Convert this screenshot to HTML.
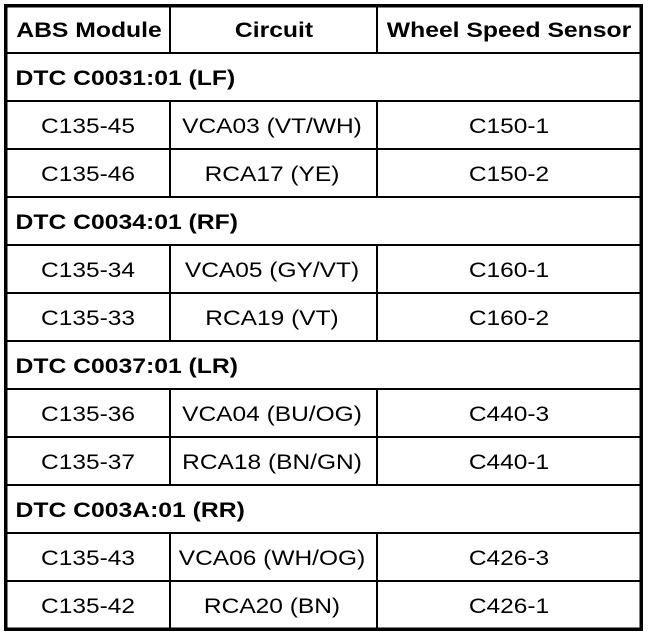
<!DOCTYPE html>
<html>
<head>
<meta charset="utf-8">
<style>
  html, body { margin: 0; padding: 0; background: #fff; }
  svg { display: block; }
  text { font-family: "Liberation Sans", Arial, sans-serif; fill: #000; }
  .b { font-weight: bold; font-size: 21.5px; }
  .r { font-size: 21.5px; }
</style>
</head>
<body>
<svg width="672" height="636" viewBox="0 0 672 636" xmlns="http://www.w3.org/2000/svg">
  <rect x="0" y="0" width="672" height="636" fill="#fff"/>
  <g shape-rendering="crispEdges" fill="#000">
    <!-- horizontal lines -->
    <rect x="6" y="52" width="635" height="2"/>
    <rect x="6" y="100" width="635" height="2"/>
    <rect x="6" y="148" width="635" height="2"/>
    <rect x="6" y="196" width="635" height="2"/>
    <rect x="6" y="244" width="635" height="2"/>
    <rect x="6" y="292" width="635" height="2"/>
    <rect x="6" y="340" width="635" height="2"/>
    <rect x="6" y="388" width="635" height="2"/>
    <rect x="6" y="436" width="635" height="2"/>
    <rect x="6" y="484" width="635" height="2"/>
    <rect x="6" y="532" width="635" height="2"/>
    <rect x="6" y="580" width="635" height="2"/>
    <!-- vertical lines col1/col2 -->
    <rect x="169" y="6" width="2" height="47"/>
    <rect x="169" y="100" width="2" height="97"/>
    <rect x="169" y="244" width="2" height="97"/>
    <rect x="169" y="388" width="2" height="97"/>
    <rect x="169" y="532" width="2" height="97"/>
    <!-- vertical lines col2/col3 -->
    <rect x="376" y="6" width="2" height="47"/>
    <rect x="376" y="100" width="2" height="97"/>
    <rect x="376" y="244" width="2" height="97"/>
    <rect x="376" y="388" width="2" height="97"/>
    <rect x="376" y="532" width="2" height="97"/>
  </g>
  <!-- outer border -->
  <rect x="5.75" y="5.75" width="635.5" height="623.5" fill="none" stroke="#000" stroke-width="3.5"/>

  <!-- header -->
  <text class="b" text-anchor="middle" transform="translate(89,37) scale(1.15,1)">ABS Module</text>
  <text class="b" text-anchor="middle" transform="translate(274,37) scale(1.15,1)">Circuit</text>
  <text class="b" text-anchor="middle" transform="translate(509,37) scale(1.15,1)">Wheel Speed Sensor</text>

  <!-- group 1 -->
  <text class="b" transform="translate(15.5,85) scale(1.15,1)">DTC C0031:01 (LF)</text>
  <text class="r" text-anchor="middle" transform="translate(88,133) scale(1.14,1)">C135-45</text>
  <text class="r" text-anchor="middle" transform="translate(272,133) scale(1.14,1)">VCA03 (VT/WH)</text>
  <text class="r" text-anchor="middle" transform="translate(509,133) scale(1.14,1)">C150-1</text>
  <text class="r" text-anchor="middle" transform="translate(88,181) scale(1.14,1)">C135-46</text>
  <text class="r" text-anchor="middle" transform="translate(272,181) scale(1.14,1)">RCA17 (YE)</text>
  <text class="r" text-anchor="middle" transform="translate(509,181) scale(1.14,1)">C150-2</text>

  <!-- group 2 -->
  <text class="b" transform="translate(15.5,229) scale(1.15,1)">DTC C0034:01 (RF)</text>
  <text class="r" text-anchor="middle" transform="translate(88,277) scale(1.14,1)">C135-34</text>
  <text class="r" text-anchor="middle" transform="translate(272,277) scale(1.14,1)">VCA05 (GY/VT)</text>
  <text class="r" text-anchor="middle" transform="translate(509,277) scale(1.14,1)">C160-1</text>
  <text class="r" text-anchor="middle" transform="translate(88,325) scale(1.14,1)">C135-33</text>
  <text class="r" text-anchor="middle" transform="translate(272,325) scale(1.14,1)">RCA19 (VT)</text>
  <text class="r" text-anchor="middle" transform="translate(509,325) scale(1.14,1)">C160-2</text>

  <!-- group 3 -->
  <text class="b" transform="translate(15.5,373) scale(1.15,1)">DTC C0037:01 (LR)</text>
  <text class="r" text-anchor="middle" transform="translate(88,421) scale(1.14,1)">C135-36</text>
  <text class="r" text-anchor="middle" transform="translate(272,421) scale(1.14,1)">VCA04 (BU/OG)</text>
  <text class="r" text-anchor="middle" transform="translate(509,421) scale(1.14,1)">C440-3</text>
  <text class="r" text-anchor="middle" transform="translate(88,469) scale(1.14,1)">C135-37</text>
  <text class="r" text-anchor="middle" transform="translate(272,469) scale(1.14,1)">RCA18 (BN/GN)</text>
  <text class="r" text-anchor="middle" transform="translate(509,469) scale(1.14,1)">C440-1</text>

  <!-- group 4 -->
  <text class="b" transform="translate(15.5,517) scale(1.15,1)">DTC C003A:01 (RR)</text>
  <text class="r" text-anchor="middle" transform="translate(88,565) scale(1.14,1)">C135-43</text>
  <text class="r" text-anchor="middle" transform="translate(272,565) scale(1.14,1)">VCA06 (WH/OG)</text>
  <text class="r" text-anchor="middle" transform="translate(509,565) scale(1.14,1)">C426-3</text>
  <text class="r" text-anchor="middle" transform="translate(88,613) scale(1.14,1)">C135-42</text>
  <text class="r" text-anchor="middle" transform="translate(272,613) scale(1.14,1)">RCA20 (BN)</text>
  <text class="r" text-anchor="middle" transform="translate(509,613) scale(1.14,1)">C426-1</text>
</svg>
</body>
</html>
